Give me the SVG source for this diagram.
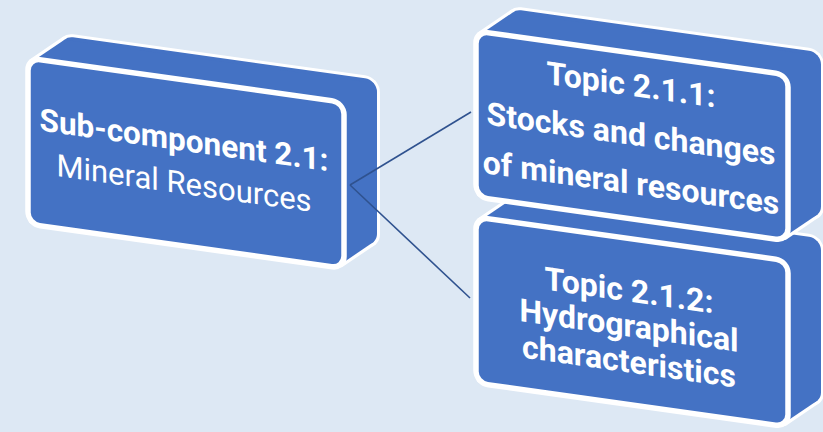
<svg xmlns="http://www.w3.org/2000/svg" xmlns:xlink="http://www.w3.org/1999/xlink" width="823" height="432" viewBox="0 0 823 432">
<style>
.ol{fill:none;stroke:#ffffff;stroke-width:6;stroke-linejoin:round}
.fl{fill:#4472c4;stroke:none}
.fr{fill:#4472c4;stroke:#ffffff;stroke-width:5.5}
.t{font-family:Roboto,"Liberation Sans",sans-serif;fill:#ffffff;text-anchor:middle;font-size:32px}
.b{font-weight:700}
.r{font-weight:400}
.cn{stroke:#2f528f;stroke-width:1.6;fill:none}
</style>
<defs>
<g id="boxL">
<rect class="ol" x="33" y="-27" width="316" height="166" rx="12"/>
<polygon class="ol" points="3.5,3.5 36.5,-23.5 345.5,-23.5 345.5,135.5 312.5,162.5 3.5,162.5"/>
<rect class="fl" x="33" y="-27" width="316" height="166" rx="12"/>
<polygon class="fl" points="3.5,3.5 36.5,-23.5 345.5,-23.5 345.5,135.5 312.5,162.5 3.5,162.5"/>
<rect class="fr" x="0" y="0" width="316" height="166" rx="12"/>
</g>
<g id="boxR">
<rect class="ol" x="33" y="-27" width="312" height="166" rx="12"/>
<polygon class="ol" points="3.5,3.5 36.5,-23.5 341.5,-23.5 341.5,135.5 308.5,162.5 3.5,162.5"/>
<rect class="fl" x="33" y="-27" width="312" height="166" rx="12"/>
<polygon class="fl" points="3.5,3.5 36.5,-23.5 341.5,-23.5 341.5,135.5 308.5,162.5 3.5,162.5"/>
<rect class="fr" x="0" y="0" width="312" height="166" rx="12"/>
</g>
</defs>
<rect width="823" height="432" fill="#dde8f4"/>
<g id="topic-2-1-2" transform="translate(476,217) skewY(8)">
<use xlink:href="#boxR"/>
<text class="t b" x="153" y="63">Topic 2.1.2:</text>
<text class="t b" x="153" y="98">Hydrographical</text>
<text class="t b" x="153" y="134">characteristics</text>
</g>
<g id="topic-2-1-1" transform="translate(476,31) skewY(8)">
<use xlink:href="#boxR"/>
<text class="t b" x="155" y="43">Topic 2.1.1:</text>
<text class="t b" x="155" y="92">Stocks and changes</text>
<text class="t b" x="155" y="141">of mineral resources</text>
</g>
<g id="subcomponent-2-1" transform="translate(28,58) skewY(8)">
<use xlink:href="#boxL"/>
<text class="t b" x="156" y="71" style="font-size:31.5px">Sub-component 2.1:</text>
<text class="t r" x="156" y="114" style="font-size:31px">Mineral Resources</text>
</g>
<g id="connectors">
<line class="cn" x1="350" y1="185" x2="471" y2="112"/>
<line class="cn" x1="350" y1="185" x2="470" y2="298"/>
</g>
</svg>
